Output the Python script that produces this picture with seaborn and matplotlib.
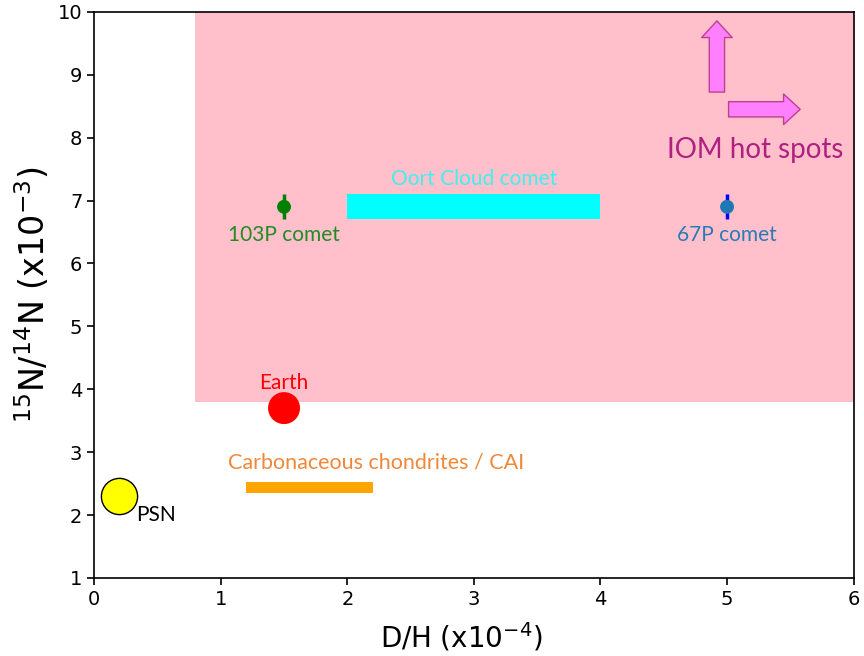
import pandas as pd
import matplotlib.pyplot as plt
import seaborn as sns
from matplotlib.patches import Rectangle, FancyArrowPatch

# Data (D/H in 1e-4, 15N/14N in 1e-3)
points = ['PSN', 'Earth', '103P comet', '67P comet']
dh = [0.2, 1.5, 1.5, 5.0]
n15 = [2.3, 3.7, 6.9, 6.9]
n15_err = [0.0, 0.0, 0.2, 0.2]

oort_dh = [2.0, 4.0]
oort_n15 = [6.7, 7.1]
cc_dh = [1.2, 2.2]
cc_n15 = [2.35, 2.53]
iom_dh = [0.8, 6.0]
iom_n15 = [3.8, 10.0]

sns.set_style("ticks")
plt.rcParams['font.family'] = ['DejaVu Sans']
plt.rcParams['text.color'] = 'black'
plt.rcParams['axes.labelcolor'] = 'black'
plt.rcParams['xtick.color'] = 'black'
plt.rcParams['ytick.color'] = 'black'
lab_font = ['Lato', 'DejaVu Sans']

fig, ax = plt.subplots(figsize=(8.64, 6.56), dpi=100)
fig.subplots_adjust(left=0.109, right=0.988, top=0.982, bottom=0.119)

# IOM hot spot region
ax.add_patch(Rectangle((iom_dh[0], iom_n15[0]), iom_dh[1] - iom_dh[0], iom_n15[1] - iom_n15[0],
                       facecolor='pink', edgecolor='none', zorder=0))
# Oort cloud range
ax.add_patch(Rectangle((oort_dh[0], oort_n15[0]), oort_dh[1] - oort_dh[0], oort_n15[1] - oort_n15[0],
                       facecolor='cyan', edgecolor='none', zorder=1))
# Carbonaceous chondrites range
ax.add_patch(Rectangle((cc_dh[0], cc_n15[0]), cc_dh[1] - cc_dh[0], cc_n15[1] - cc_n15[0],
                       facecolor='orange', edgecolor='none', zorder=1))

df = pd.DataFrame({'dh': dh, 'n15': n15, 'err': n15_err, 'name': points})

# error bars for comets
ax.errorbar(dh[2], n15[2], yerr=n15_err[2], fmt='none', ecolor='green', elinewidth=2.5, zorder=2)
ax.errorbar(dh[3], n15[3], yerr=n15_err[3], fmt='none', ecolor='blue', elinewidth=2.5, zorder=2)

sns.scatterplot(data=df.iloc[[0]], x='dh', y='n15', s=680, color='yellow', edgecolor='black',
                linewidth=1, ax=ax, zorder=3, legend=False)
sns.scatterplot(data=df.iloc[[1]], x='dh', y='n15', s=530, color='red', edgecolor='none',
                ax=ax, zorder=3, legend=False)
sns.scatterplot(data=df.iloc[[2]], x='dh', y='n15', s=100, color='green', edgecolor='none',
                ax=ax, zorder=3, legend=False)
sns.scatterplot(data=df.iloc[[3]], x='dh', y='n15', s=100, color='#1f77b4', edgecolor='none',
                ax=ax, zorder=3, legend=False)

# labels
fs = 15
ax.text(0.33, 2.0, 'PSN', color='black', fontsize=fs, ha='left', va='center', family=lab_font)
ax.text(1.5, 4.1, 'Earth', color='red', fontsize=fs, ha='center', va='center', family=lab_font)
ax.text(1.5, 6.45, '103P comet', color='#228b22', fontsize=fs, ha='center', va='center', family=lab_font)
ax.text(5.0, 6.45, '67P comet', color='#2a7ab8', fontsize=fs, ha='center', va='center', family=lab_font)
ax.text(3.0, 7.35, 'Oort Cloud comet', color='#40f0f0', fontsize=fs, ha='center', va='center', family=lab_font)
ax.text(2.23, 2.83, 'Carbonaceous chondrites / CAI', color='#f0883a', fontsize=15.5, ha='center',
        va='center', family=lab_font)
ax.text(5.22, 7.8, 'IOM hot spots', color='#b02080', fontsize=20, ha='center', va='center', family=lab_font)

# arrows
style = "simple,head_width=22,head_length=12,tail_width=11"
ax.add_patch(FancyArrowPatch((4.92, 8.68), (4.92, 9.9), arrowstyle=style, facecolor='#ff80ff',
                             edgecolor='#c04090', linewidth=1, zorder=4, mutation_scale=1))
ax.add_patch(FancyArrowPatch((4.99, 8.45), (5.6, 8.45), arrowstyle=style, facecolor='#ff80ff',
                             edgecolor='#c04090', linewidth=1, zorder=4, mutation_scale=1))

ax.set_xlim(0, 6)
ax.set_ylim(1, 10)
ax.set_xlabel('D/H (x10$^{-4}$)', fontsize=20)
ax.set_ylabel('$^{15}$N/$^{14}$N (x10$^{-3}$)', fontsize=24)
ax.xaxis.set_label_coords(0.484, -0.075)
ax.tick_params(labelsize=14, length=5, width=1.2, colors='black')
for s in ax.spines.values():
    s.set_color('black')
    s.set_linewidth(1.2)

plt.savefig('out.png', dpi=100)
